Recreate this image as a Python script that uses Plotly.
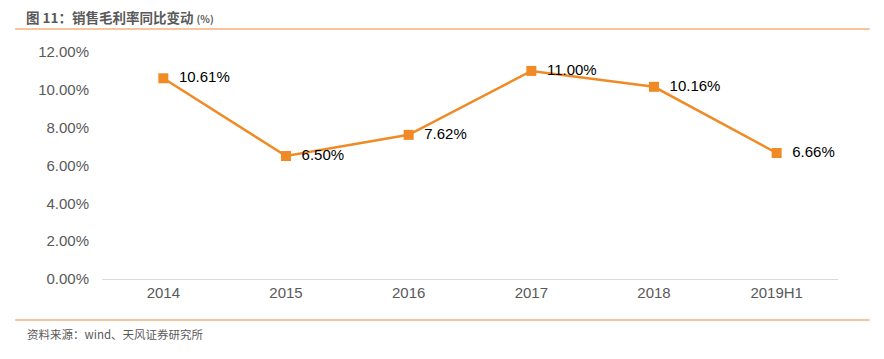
import plotly.graph_objects as go

categories = ["2014", "2015", "2016", "2017", "2018", "2019H1"]
values = [10.61, 6.50, 7.62, 11.00, 10.16, 6.66]
labels = ["10.61%", "6.50%", "7.62%", "11.00%", "10.16%", "6.66%"]
tick_vals = [0, 2, 4, 6, 8, 10, 12]
tick_text = ["0.00%", "2.00%", "4.00%", "6.00%", "8.00%", "10.00%", "12.00%"]

orange = "#F08A24"
gray = "#595959"

fig = go.Figure()
fig.add_trace(go.Scatter(
    x=categories, y=values, mode="lines+markers+text",
    line=dict(color=orange, width=2.5),
    marker=dict(symbol="square", size=10, color=orange),
    text=["  " + t for t in labels], textposition="middle right",
    textfont=dict(family="Liberation Sans, Arial", size=15, color="#000000"),
    cliponaxis=False, showlegend=False,
))

fig.update_layout(
    width=876, height=351,
    margin=dict(l=94, r=46, t=44, b=80),
    paper_bgcolor="white", plot_bgcolor="white",
    font=dict(family="Liberation Sans, Arial", size=15, color=gray),
    xaxis=dict(
        type="category", showgrid=False, showline=True, linecolor="#D9D9D9",
        linewidth=1, ticks="", tickfont=dict(size=15, color=gray),
        range=[-0.5, 5.5], fixedrange=True,
    ),
    yaxis=dict(
        range=[0, 12], tickvals=tick_vals, ticktext=tick_text, showgrid=False,
        zeroline=False, showline=False, ticks="", ticklabelstandoff=12,
        tickfont=dict(size=15, color=gray),
    ),
    shapes=[
        dict(type="line", xref="paper", yref="paper", x0=-0.118, x1=1.043,
             y0=1.101, y1=1.101, line=dict(color="#F4B07A", width=1.5)),
        dict(type="line", xref="paper", yref="paper", x0=-0.118, x1=1.043,
             y0=-0.181, y1=-0.181, line=dict(color="#F4B07A", width=1.5)),
    ],
    annotations=[
        dict(xref="paper", yref="paper", x=-0.104, y=1.152, xanchor="left", yanchor="middle",
             showarrow=False, borderpad=0,
             text="<b>图 11：销售毛利率同比变动</b> <span style='font-size:10px'><b>(%)</b></span>",
             font=dict(family="Noto Sans CJK SC", size=13.5, color=gray)),
        dict(xref="paper", yref="paper", x=-0.104, y=-0.242, xanchor="left", yanchor="middle",
             showarrow=False, text="资料来源：wind、天风证券研究所",
             font=dict(family="Noto Sans CJK SC", size=11.5, color=gray)),
    ],
)

fig.write_html("out.html")
